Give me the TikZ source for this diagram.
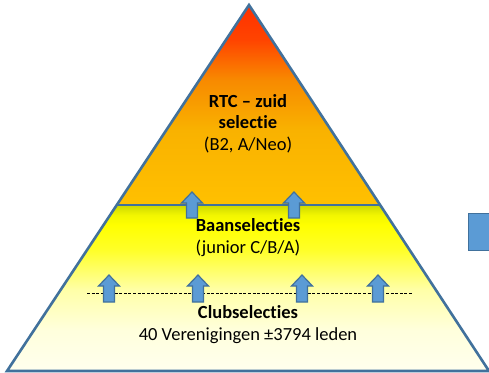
\documentclass[tikz,border=0pt]{standalone}
\usepackage{fontspec}
\setmainfont{Carlito}[Ligatures={NoCommon,NoContextual}]
\usetikzlibrary{calc}
\definecolor{bluefill}{HTML}{5B9BD5}
\definecolor{blueline}{HTML}{41719C}
\definecolor{amberA}{HTML}{FFC000}
\definecolor{amberB}{HTML}{F9B200}
\definecolor{orangeC}{HTML}{F88A00}
\definecolor{redD}{HTML}{FF4400}
\definecolor{redE}{HTML}{FF3000}
\definecolor{yelA}{HTML}{FFFFEE}
\definecolor{yelB}{HTML}{FFFFDC}
\definecolor{yelC}{HTML}{FFFFA8}
\definecolor{yelD}{HTML}{FFFF28}
\definecolor{yelE}{HTML}{FFFF00}
\definecolor{yelF}{HTML}{F2F600}
\definecolor{yelG}{HTML}{CCD800}
\pgfdeclareverticalshading{topshade}{100bp}{color(0bp)=(amberA); color(25bp)=(amberA); color(43.75bp)=(amberB); color(56.25bp)=(orangeC); color(66.25bp)=(redD); color(75bp)=(redE); color(100bp)=(redE)}
\pgfdeclareverticalshading{lowshade}{100bp}{color(0bp)=(yelA); color(25bp)=(yelA); color(37.4bp)=(yelB); color(49.4bp)=(yelC); color(61.5bp)=(yelD); color(69bp)=(yelE); color(72bp)=(yelF); color(75bp)=(yelG); color(100bp)=(yelG)}
\tikzset{
  outline/.style={draw=blueline, line width=2.6pt, line join=miter},
  txt/.style={font=\fontsize{18.5}{21.5}\selectfont, align=center, inner sep=0pt, text=black},
  bluebox/.style={fill=bluefill, draw=blueline, line width=1.2pt},
  bluearrow/.pic={
    \draw[bluebox, line join=miter] (0,0) -- (10.5,11) -- (5.5,11) -- (5.5,#1) -- (-5.5,#1) -- (-5.5,11) -- (-10.5,11) -- cycle;
  },
}
\begin{document}
\begin{tikzpicture}[x=1pt, y=-1pt]
\useasboundingbox (0,0) rectangle (489,372);
\clip (0,0) rectangle (489,372);
\coordinate (apex) at (249,5);
\coordinate (bl) at (7,371);
\coordinate (br) at (489,371);
\coordinate (ml) at ($(apex)!200/366!(bl)$);
\coordinate (mr) at ($(apex)!200/366!(br)$);
% fills
\shade[shading=lowshade] (ml) -- (mr) -- (br) -- (bl) -- cycle;
\shade[shading=topshade] (apex) -- (mr) -- (ml) -- cycle;
% dashed line
\coordinate (dl) at (87,293);
\coordinate (dr) at (413,293);
\draw[black, line width=0.9pt, dash pattern=on 3pt off 1.6pt] (dl) -- (dr);
% divider and outline
\draw[outline] (ml) -- (mr);
\draw[outline] (apex) -- (br) -- (bl) -- cycle;
% arrows
\pic at (192,192) {bluearrow=26};
\pic at (294,192) {bluearrow=26};
\pic at (109,275) {bluearrow=27};
\pic at (198,275) {bluearrow=27};
\pic at (302,275) {bluearrow=27};
\pic at (378,275) {bluearrow=27};
% right blue box
\node[bluebox, minimum width=26pt, minimum height=37pt, inner sep=0pt, anchor=north west] (sq) at (468,212.5) {};
% texts
\node[txt] (rtc) at (248,123.5) {\textbf{RTC – zuid}\\\textbf{selectie}\\(B2, A/Neo)};
\node[txt] (baan) at (248,237.5) {\textbf{Baanselecties}\\(junior C/B/A)};
\node[txt] (club) at (248,324.5) {\textbf{Clubselecties}\\40 Verenigingen ±3794 leden};
\end{tikzpicture}
\end{document}
